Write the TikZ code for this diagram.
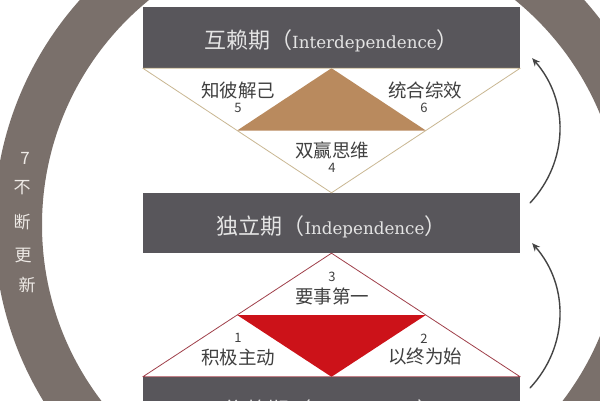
\documentclass[tikz,border=0pt]{standalone}
\usepackage{fontspec}
\setmainfont{Noto Sans CJK SC}
\newfontfamily\latfont[Scale=0.76]{DejaVu Serif}
\usetikzlibrary{calc,arrows.meta}
\definecolor{ringgray}{HTML}{7A706B}
\definecolor{boxgray}{HTML}{58565B}
\definecolor{boxtext}{HTML}{E4E4E4}
\definecolor{labelgray}{HTML}{404040}
\definecolor{ringtext}{HTML}{EEEAE6}
\definecolor{tanfill}{HTML}{B98A5E}
\definecolor{tanline}{HTML}{C9B792}
\definecolor{redfill}{HTML}{CC1219}
\definecolor{redline}{HTML}{A0404A}
\definecolor{arrowgray}{HTML}{444444}
\begin{document}
\begin{tikzpicture}[x=1pt, y=1pt, line join=round, line cap=round, >={Stealth[length=8pt,width=7pt]},
    stage/.style={fill=boxgray, minimum width=377pt, minimum height=61pt, inner sep=0pt, text height=22pt, text depth=0pt, text=boxtext, font=\fontsize{22}{22}\selectfont},
    habit/.style={text=labelgray, font=\fontsize{18.5}{18.5}\selectfont, inner sep=0pt},
    num/.style={text=labelgray, font=\fontsize{13}{13}\selectfont, inner sep=0pt},
    cyc/.style={text=ringtext, font=\fontsize{17}{17}\selectfont, inner sep=0pt},
    arr/.style={->, line width=1.4pt, draw=arrowgray}]
    \useasboundingbox (0,0) rectangle (600,400);
    \clip (0,0) rectangle (600,400);
    \fill[white] (0,0) rectangle (600,400);
    \draw[ringgray, line width=48pt] (332,175) circle (314);
    % Giai đoạn
    \node[stage] (top) at (331.5,362.5) {互赖期（{\latfont Interdependence}）};
    \node[stage, minimum height=60pt] (mid) at (331.5,177) {独立期（{\latfont Independence}）};
    \node[stage, minimum height=60pt] (bot) at (331.5,-7) {依赖期（{\latfont Dependence}）};
    % Tam giác
    \fill[tanfill] ($(top.south west)!0.5!(mid.north)$) -- ($(top.south east)!0.5!(mid.north)$) -- (top.south) -- cycle;
    \draw[tanline, line width=0.8pt] (top.south west) -- (top.south east) -- (mid.north) -- cycle;
    \fill[redfill] ($(bot.north west)!0.5!(mid.south)$) -- ($(bot.north east)!0.5!(mid.south)$) -- (bot.north) -- cycle;
    \draw[redline, line width=0.8pt] (bot.north west) -- (bot.north east) -- (mid.south) -- cycle;
    % Thói quen
    \node[habit] (h5) at (238,310) {知彼解己};
    \node[num] (n5) at (238,292) {5};
    \node[habit] (h6) at (425,310) {统合综效};
    \node[num] (n6) at (424,292) {6};
    \node[habit] (h4) at (332,250) {双赢思维};
    \node[num] (n4) at (332,232) {4};
    \node[num] (n3) at (332,123) {3};
    \node[habit] (h3) at (332,104) {要事第一};
    \node[num] (n1) at (238,62) {1};
    \node[habit] (h1) at (238,43) {积极主动};
    \node[num] (n2) at (424,61) {2};
    \node[habit] (h2) at (425,43) {以终为始};
    % Vòng ngoài
    \foreach \t/\px/\py [count=\i] in {7/25/242, 不/22/212, 断/22/178, 更/23/145, 新/27/115}
    \node[cyc] (cyc\i) at (\px,\py) {\t};
    \draw[arr] ([shift={(10,-10)}]mid.north east) to[bend right=42] ([shift={(12,10)}]top.south east);
    \draw[arr] ([shift={(10,-11)}]bot.north east) to[bend right=42] ([shift={(12,10)}]mid.south east);
\end{tikzpicture}
\end{document}
